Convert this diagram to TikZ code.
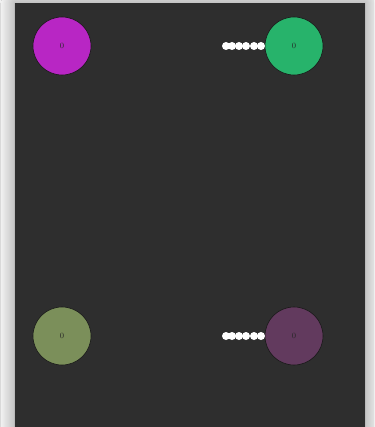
\documentclass[tikz,border=0pt]{standalone}
\usepackage{tikz}
\usetikzlibrary{positioning,shadows.blur}

\definecolor{panelgray}{HTML}{2E2E2E}
\definecolor{pagegray}{HTML}{F2F2F2}
\definecolor{magentaball}{HTML}{B826C4}
\definecolor{greenball}{HTML}{27B36B}
\definecolor{oliveball}{HTML}{7B8F5A}
\definecolor{plumball}{HTML}{623A5E}

\begin{document}
\begin{tikzpicture}[
  x=1pt,y=-1pt,
  ball/.style={circle,draw=black!90,line width=0.6pt,minimum size=58pt,inner sep=0pt,font=\fontsize{8}{8}\selectfont,text=black!85},
  trail/.style={circle,fill=white,minimum size=8pt,inner sep=0pt}]
\useasboundingbox (0,0) rectangle (374,427);
\fill[pagegray] (0,0) rectangle (374,427);
\fill[panelgray,blur shadow={shadow xshift=0pt,shadow yshift=0pt,shadow blur radius=14pt,shadow blur steps=30,shadow opacity=40}] (15,3) rectangle (365,440);
\node[ball,fill=magentaball] (tl) at (62,46) {0};
\node[ball,fill=greenball] (tr) at (294,46) {0};
\node[ball,fill=oliveball] (bl) at (62,336) {0};
\node[ball,fill=plumball] (br) at (294,336) {0};
% trails left of the right-hand balls
\foreach \dx [count=\i] in {68,62,55,48,40,33}{
  \node[trail] (ta\i) at (294-\dx,46) {};
  \node[trail] (tb\i) at (294-\dx,336) {};
}
\end{tikzpicture}
\end{document}
